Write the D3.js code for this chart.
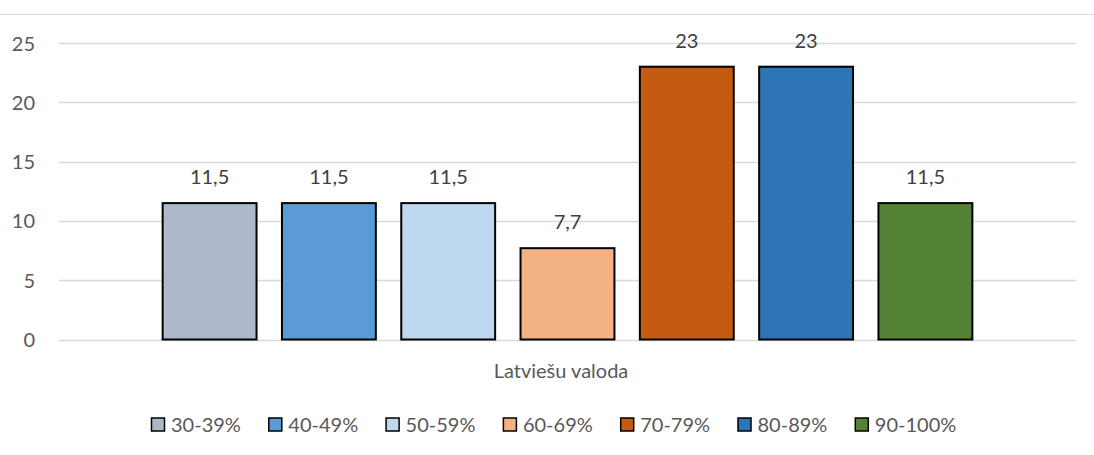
<!DOCTYPE html>
<html><head><meta charset="utf-8">
<script src="https://cdn.jsdelivr.net/npm/d3@7"></script>
<style>body{margin:0;background:#fff}svg{display:block}text{font-family:Lato,"Open Sans",sans-serif}</style>
</head><body><svg id="c" width="1094" height="455"></svg>
<script>
const category = "Latviešu valoda";
const series = ["30-39%","40-49%","50-59%","60-69%","70-79%","80-89%","90-100%"];
const values = [11.5, 11.5, 11.5, 7.7, 23, 23, 11.5];
const labels = ["11,5","11,5","11,5","7,7","23","23","11,5"];
const colors = ["#ADB9CA","#5B9BD5","#BDD7EE","#F4B183","#C55A11","#2E75B6","#548235"];
const yTicks = [0,5,10,15,20,25];

const svg = d3.select("#c");
const L = 59, R = 1076, T = 43, B = 339.5;
const FS = 20;
const y = d3.scaleLinear().domain([0,25]).range([B,T]);
const x0 = d3.scaleBand().domain([category]).range([L,R]).paddingInner(0).paddingOuter(0.128);
const x1 = d3.scaleBand().domain(series).range([0,x0.bandwidth()]).paddingInner(0.213).paddingOuter(0);

svg.append("line").attr("x1",0).attr("x2",1094).attr("y1",14.5).attr("y2",14.5).attr("stroke","#d9d9d9").attr("stroke-width",1);

const g = svg.append("g");
g.selectAll("line.grid").data(yTicks).join("line").attr("class","grid")
 .attr("x1",L).attr("x2",R).attr("y1",d=>Math.round(y(d))+0.5).attr("y2",d=>Math.round(y(d))+0.5)
 .attr("stroke","#d9d9d9").attr("stroke-width",1.5);

const yAxis = d3.axisLeft(y).tickValues(yTicks).tickSize(0).tickPadding(0);
const ya = svg.append("g").attr("transform",`translate(35,0)`).call(yAxis);
ya.select(".domain").remove();
ya.selectAll("text").attr("font-size",FS).attr("fill","#595959").attr("text-anchor","end").attr("dy","0.35em").style("font-family","Lato,'Open Sans',sans-serif");

const bx = x0(category);
g.selectAll("rect.bar").data(values).join("rect").attr("class","bar")
 .attr("x",(d,i)=>bx+x1(series[i])).attr("width",x1.bandwidth())
 .attr("y",d=>y(d)).attr("height",d=>B-y(d))
 .attr("fill",(d,i)=>colors[i]).attr("stroke","#000").attr("stroke-width",2);

g.selectAll("text.lbl").data(values).join("text").attr("class","lbl")
 .attr("x",(d,i)=>bx+x1(series[i])+x1.bandwidth()/2).attr("y",d=>y(d)-19)
 .attr("text-anchor","middle").attr("font-size",FS).attr("fill","#404040").text((d,i)=>labels[i]);

svg.append("text").attr("x",561).attr("y",378).attr("text-anchor","middle").attr("font-size",FS).attr("fill","#595959").text(category);

const lx = d3.scaleBand().domain(series).range([151,151+117.3*7]);
const lg = svg.selectAll("g.leg").data(series).join("g").attr("class","leg")
 .attr("transform",d=>`translate(${lx(d)},0)`);
lg.append("rect").attr("x",0.5).attr("y",418).attr("width",13).attr("height",13)
 .attr("fill",(d,i)=>colors[i]).attr("stroke","#000").attr("stroke-width",1.5);
lg.append("text").attr("x",20).attr("y",431.5).attr("font-size",FS).attr("fill","#595959").text(d=>d);
</script></body></html>
